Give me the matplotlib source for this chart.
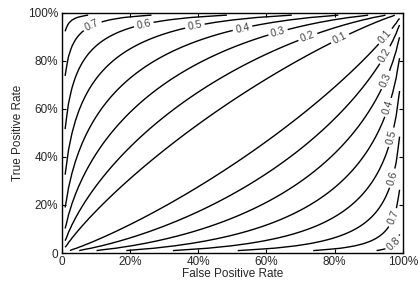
import numpy as np
import matplotlib
matplotlib.use("Agg")
import matplotlib.pyplot as plt
from statistics import NormalDist

# Contour levels (|value| shown in labels; negative = below diagonal)
levels_upper = [0.1, 0.2, 0.3, 0.4, 0.5, 0.6, 0.7, 0.8]
levels_lower = [-0.8, -0.7, -0.6, -0.5, -0.4, -0.3, -0.2, -0.1]
tick_vals = [0, 0.2, 0.4, 0.6, 0.8, 1.0]
tick_labels = ["0", "20%", "40%", "60%", "80%", "100%"]

# label anchor points (FPR, TPR)
label_pos_upper = [(0.09, 0.946), (0.24, 0.954), (0.39, 0.946), (0.53, 0.934),
                   (0.635, 0.913), (0.722, 0.896), (0.82, 0.88)]
label_pos_lower = [(0.94, 0.913), (0.94, 0.83), (0.94, 0.726), (0.956, 0.606),
                   (0.970, 0.48), (0.972, 0.31), (0.968, 0.149), (0.968, 0.046)]

# binormal separation scale and evaluation grid (rates 1%..99%)
k_scale = 0.293
grid_pct = np.arange(1, 100)

plt.rcParams['font.family'] = ['Liberation Sans', 'DejaVu Sans']
fig = plt.figure(figsize=(4.18, 2.85), dpi=100)
ax = fig.add_axes([61.7/418, 1-253/285, (403-61.7)/418, (253-12.7)/285])

fpr = grid_pct / 100.0
tpr = grid_pct / 100.0
nd = NormalDist()
qf = np.array([nd.inv_cdf(v) for v in fpr])
qt = np.array([nd.inv_cdf(v) for v in tpr])
D = qt[:, None] - qf[None, :]
Z = np.tanh(k_scale * D)

levels = sorted(levels_lower + levels_upper)
cs = ax.contour(fpr, tpr, Z, levels=levels, colors='black', linewidths=1.0,
                linestyles='solid')
ax.clabel(cs, fmt=lambda v: f"{abs(v):.1f}", fontsize=7.5, colors='#404040',
          inline=True, inline_spacing=3,
          manual=label_pos_upper + label_pos_lower)

ax.set_xlim(0, 1)
ax.set_ylim(0, 1)
ax.set_xticks(tick_vals)
ax.set_xticklabels(tick_labels)
ax.set_yticks(tick_vals)
ax.set_yticklabels(tick_labels)
ax.tick_params(direction='in', length=3.2, width=0.8, top=True, right=True,
               labelsize=8.5, colors='black', labelcolor='#262626', pad=2.5)
for s in ax.spines.values():
    s.set_linewidth(1.0)
ax.set_xlabel("False Positive Rate", fontsize=8.5, color='#262626', labelpad=0)
ax.set_ylabel("True Positive Rate", fontsize=8.5, color='#262626', labelpad=3)

fig.savefig("out.png", dpi=100)
